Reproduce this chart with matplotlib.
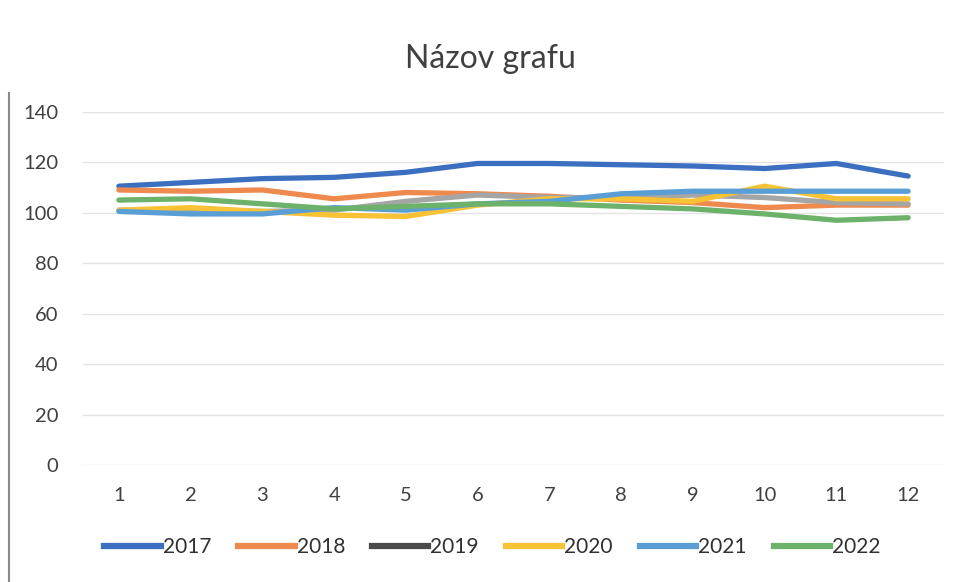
import matplotlib.pyplot as plt
from matplotlib.lines import Line2D

plt.rcParams["font.family"] = ["Lato", "DejaVu Sans"]

months = list(range(1, 13))
years = ["2017", "2018", "2019", "2020", "2021", "2022"]

v2017 = [110.5, 112, 113.5, 114, 116, 119.5, 119.5, 119, 118.5, 117.5, 119.5, 114.5]
v2018 = [109, 108.5, 109, 105.5, 108, 107.5, 106.5, 105, 104, 102, 103, 103]
v2019 = [101, 101, 100.5, 101, 104.5, 107, 106, 106, 107, 106, 104, 103.5]
v2020 = [101, 102, 100.5, 99, 98.5, 103, 105.5, 105.5, 104.5, 110.5, 105.5, 105.5]
v2021 = [100.5, 99.5, 99.5, 102, 101, 103.5, 104.5, 107.5, 108.5, 108.5, 108.5, 108.5]
v2022 = [105, 105.5, 103.5, 101.5, 102.5, 103.5, 103.5, 102.5, 101.5, 99.5, 97, 98]

series = [v2017, v2018, v2019, v2020, v2021, v2022]
colors = ["#3C6FC0", "#EE8A4E", "#A5A5A5", "#F8C235", "#5A9ED6", "#6DB26A"]
legend_colors = ["#3C6FC0", "#EE8A4E", "#4A4A4A", "#F8C235", "#5A9ED6", "#6DB26A"]

fig = plt.figure(figsize=(9.62, 5.82), dpi=100)
ax = fig.add_axes([0.0863, 0.201, 0.895, 0.607])

for vals, c in zip(series, colors):
    ax.plot(months, vals, color=c, lw=3.8, solid_capstyle="round")

ax.set_xlim(0.5, 12.5)
ax.set_ylim(0, 140)
ax.set_yticks(range(0, 141, 20))
ax.set_xticks(months)
ax.grid(axis="y", color="#E3E3E3", lw=1)
ax.set_axisbelow(True)
for s in ax.spines.values():
    s.set_visible(False)
ax.tick_params(length=0, labelsize=14.5, colors="#404040")
ax.tick_params(axis="x", pad=16)
ax.tick_params(axis="y", pad=18)

fig.suptitle("Názov grafu", x=0.51, y=0.925, fontsize=23, color="#404040")

handles = [Line2D([], [], color=c, lw=4.5) for c in legend_colors]
fig.legend(handles, years, loc="center", bbox_to_anchor=(0.512, 0.06), ncol=6,
           frameon=False, fontsize=15, handlelength=2.7, handletextpad=0.1,
           columnspacing=1.3, labelcolor="#303030")

# left edge of the scanned chart border
fig.add_artist(Line2D([0.009, 0.009], [0.0, 0.84], color="#8A8A8A", lw=1.5))

fig.savefig("out.png", dpi=100)
